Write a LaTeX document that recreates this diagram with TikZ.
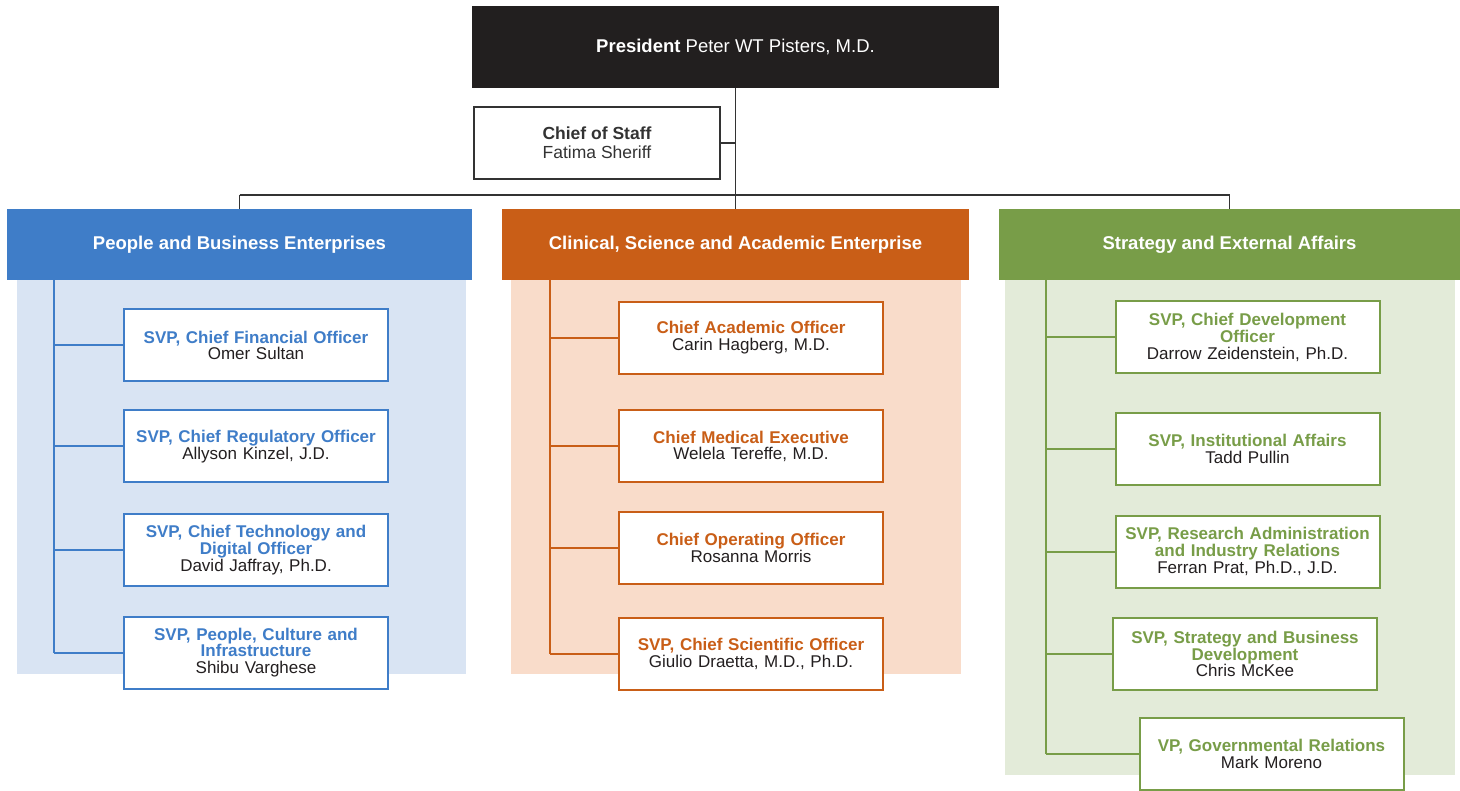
\documentclass[tikz,border=0pt]{standalone}
\usepackage{fontspec}
\setmainfont{Liberation Sans}

\definecolor{presBlack}{HTML}{221F1F}
\definecolor{nameGray}{HTML}{231F20}
\definecolor{lineGray}{HTML}{333333}
\definecolor{pbBlue}{HTML}{3F7DC8}
\definecolor{pbLight}{HTML}{D9E4F3}
\definecolor{csOrange}{HTML}{C95E17}
\definecolor{csLight}{HTML}{F9DCCA}
\definecolor{seGreen}{HTML}{789D48}
\definecolor{seLight}{HTML}{E3EBD9}

\newcommand{\post}[2]{\textcolor{#1}{\bfseries #2}}

\tikzset{
  office/.style={draw, line width=2pt, fill=white, minimum width=264pt, minimum height=72pt,
    inner sep=0pt, text width=262pt, align=center, text=nameGray,
    font=\fontsize{17}{16.8}\selectfont},
  enterprise/.style={fill=#1, minimum height=71pt, inner sep=0pt, text=white,
    font=\fontsize{18.5}{22}\selectfont\bfseries},
  link/.style={draw=lineGray, line width=1.5pt},
  branch/.style={draw=#1, line width=2pt}
}

\begin{document}
\begin{tikzpicture}[x=1pt,y=-1pt]
    \useasboundingbox (0,0) rectangle (1460,791);

    % light panels behind each enterprise
    \fill[pbLight] (17,280) rectangle (466,674);
    \fill[csLight] (511,280) rectangle (961,674);
    \fill[seLight] (1005,280) rectangle (1455,775);

    % top of the chart
    \node[fill=presBlack, text=white, minimum width=527pt, minimum height=82pt, inner sep=0pt,
        font=\fontsize{18.5}{22}\selectfont] (pres) at (735.5,47) {\textbf{President} Peter WT Pisters, M.D.};
    \node[draw=lineGray, line width=2pt, minimum width=246pt, minimum height=72pt, inner sep=0pt,
        align=center, text=lineGray, font=\fontsize{17.5}{19}\selectfont] (cos) at (597,143)
        {\textbf{Chief of Staff}\\Fatima Sheriff};

    \node[enterprise=pbBlue, minimum width=465pt] (pbe) at (239.5,244.5) {People and Business Enterprises};
    \node[enterprise=csOrange, minimum width=467pt] (cse) at (735.5,244.5) {Clinical, Science and Academic Enterprise};
    \node[enterprise=seGreen, minimum width=461pt] (see) at (1229.5,244.5) {Strategy and External Affairs};

    \coordinate (bus) at (735.5,195);
    \draw[link] (pres.south) -- (bus);
    \draw[link] (cos.east) -- (cos.east -| pres.south);
    \draw[link] (bus -| pbe.north) -- (bus -| see.north);
    \foreach \e in {pbe,cse,see} {\draw[link] (bus -| \e.north) -- (\e.north);}

    % People and Business Enterprises
    \node[office, draw=pbBlue] (pb1) at (256,345.5) {\post{pbBlue}{SVP, Chief Financial Officer}\\Omer Sultan};
    \node[office, draw=pbBlue] (pb2) at (256,446.5) {\post{pbBlue}{SVP, Chief Regulatory Officer}\\Allyson Kinzel, J.D.};
    \node[office, draw=pbBlue] (pb3) at (256,550) {\post{pbBlue}{SVP, Chief Technology and}\\\post{pbBlue}{Digital Officer}\\David Jaffray, Ph.D.};
    \node[office, draw=pbBlue] (pb4) at (256,652.5) {\post{pbBlue}{SVP, People, Culture and}\\\post{pbBlue}{Infrastructure}\\Shibu Varghese};

    \coordinate (pbTop) at (54,280);
    \draw[branch=pbBlue] (pbTop) -- (pbTop |- pb4.west);
    \foreach \n in {pb1,pb2,pb3,pb4} {\draw[branch=pbBlue] (pbTop |- \n.west) -- (\n.west);}

    % Clinical, Science and Academic Enterprise
    \node[office, draw=csOrange] (cs1) at (751,338) {\post{csOrange}{Chief Academic Officer}\\Carin Hagberg, M.D.};
    \node[office, draw=csOrange] (cs2) at (751,446.5) {\post{csOrange}{Chief Medical Executive}\\Welela Tereffe, M.D.};
    \node[office, draw=csOrange] (cs3) at (751,548) {\post{csOrange}{Chief Operating Officer}\\Rosanna Morris};
    \node[office, draw=csOrange] (cs4) at (751,654) {\post{csOrange}{SVP, Chief Scientific Officer}\\Giulio Draetta, M.D., Ph.D.};

    \coordinate (csTop) at (550,280);
    \draw[branch=csOrange] (csTop) -- (csTop |- cs4.west);
    \foreach \n in {cs1,cs2,cs3,cs4} {\draw[branch=csOrange] (csTop |- \n.west) -- (\n.west);}

    % Strategy and External Affairs
    \node[office, draw=seGreen] (se1) at (1247.5,337.5) {\post{seGreen}{SVP, Chief Development}\\\post{seGreen}{Officer}\\Darrow Zeidenstein, Ph.D.};
    \node[office, draw=seGreen] (se2) at (1247.5,449) {\post{seGreen}{SVP, Institutional Affairs}\\Tadd Pullin};
    \node[office, draw=seGreen] (se3) at (1247.5,551.5) {\post{seGreen}{SVP, Research Administration}\\\post{seGreen}{and Industry Relations}\\Ferran Prat, Ph.D., J.D.};
    \node[office, draw=seGreen] (se4) at (1245,654) {\post{seGreen}{SVP, Strategy and Business}\\\post{seGreen}{Development}\\Chris McKee};
    \node[office, draw=seGreen] (se5) at (1271.5,754) {\post{seGreen}{VP, Governmental Relations}\\Mark Moreno};

    \coordinate (seTop) at (1046,280);
    \draw[branch=seGreen] (seTop) -- (seTop |- se5.west);
    \foreach \n in {se1,se2,se3,se4,se5} {\draw[branch=seGreen] (seTop |- \n.west) -- (\n.west);}
\end{tikzpicture}
\end{document}
